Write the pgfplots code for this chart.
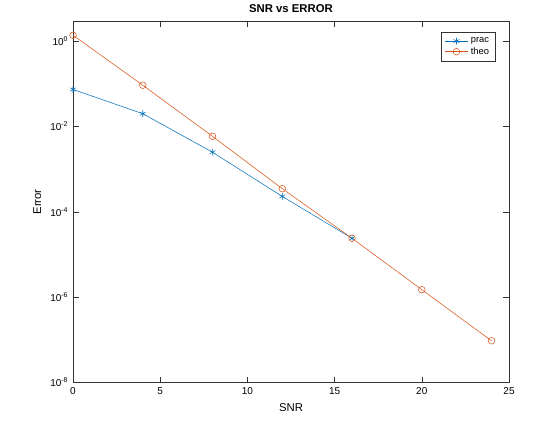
\documentclass[border=0pt]{standalone}
\usepackage{pgfplots}
\pgfplotsset{compat=1.18}
\usepackage{fontspec}
\setmainfont{Liberation Sans}
\definecolor{mblue}{rgb}{0,0.447,0.741}
\definecolor{morange}{rgb}{0.85,0.325,0.098}
\begin{document}
\begin{tikzpicture}
\path (-54.75pt,-31.5pt) rectangle (365.25pt,283.5pt);
\begin{axis}[at={(0,0)},anchor=south west,scale only axis,width=327pt,height=271pt,
ymode=log,xmin=0,xmax=25,ymin=1e-8,ymax=2.95,
xtick={0,5,10,15,20,25},ytick={1e-8,1e-6,1e-4,1e-2,1},
yticklabels={10\textsuperscript{-8},10\textsuperscript{-6},10\textsuperscript{-4},10\textsuperscript{-2},10\textsuperscript{0}},
tick align=inside,tick style={color=black!80},
every tick label/.append style={font=\fontsize{7.5}{9}\selectfont},
/pgf/number format/assume math mode=true,
xlabel={SNR},ylabel={Error},
label style={font=\fontsize{8.5}{10}\selectfont},
title={\textbf{SNR vs ERROR}},title style={font=\fontsize{8.5}{10}\selectfont,yshift=-3pt},
legend pos=north east,legend cell align=left,
legend style={font=\fontsize{7}{8}\selectfont,draw=black!80,row sep=-2pt},
axis line style={black!80}]
\addplot[mblue,mark=asterisk,mark size=2.5pt,thin] coordinates {(0,0.074)(4,0.020)(8,0.0025)(12,2.3e-4)(16,2.4e-5)};
\addlegendentry{prac}
\addplot[morange,mark=o,mark size=2.5pt,thin] coordinates {(0,1.38)(4,0.093)(8,0.0059)(12,3.5e-4)(16,2.4e-5)(20,1.5e-6)(24,9.5e-8)};
\addlegendentry{theo}
\end{axis}
\end{tikzpicture}
\end{document}
